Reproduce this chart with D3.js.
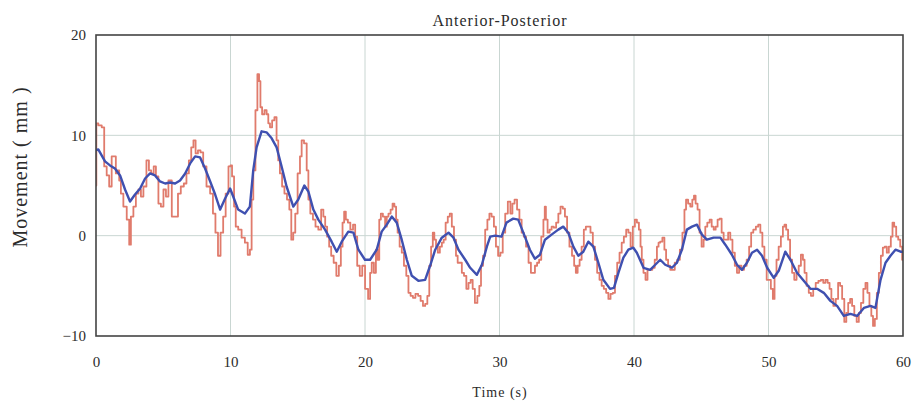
<!DOCTYPE html>
<html><head><meta charset="utf-8">
<script src="https://cdnjs.cloudflare.com/ajax/libs/d3/7.8.5/d3.min.js"></script>
<style>body{margin:0;background:#fff}svg{display:block}text{font-family:"Liberation Serif","Times New Roman",serif;fill:#2b2b2b}</style>
</head><body><svg id="c" width="916" height="402"></svg>
<script>
const title = "Anterior-Posterior";
const xLabel = "Time (s)";
const yLabel = "Movement ( mm )";
const xTicks = [0, 10, 20, 30, 40, 50, 60];
const yTicks = [-10, 0, 10, 20];

const rawT = [0,0.05,0.3,0.55,0.67,0.92,1.04,1.29,1.41,1.54,1.66,1.79,1.91,2.16,2.41,2.53,2.66,2.9,3.03,3.28,3.4,3.65,3.85,4.02,4.19,4.39,4.52,4.76,4.89,5.14,5.26,5.51,5.76,6.01,6.18,6.43,6.63,6.82,6.99,7.17,7.32,7.49,7.67,7.87,8.07,8.36,8.61,8.78,8.98,9.16,9.36,9.55,9.73,9.97,
10.03,10.2,10.33,10.45,10.7,10.95,11.19,11.37,11.52,11.62,11.77,11.94,12.06,12.19,12.26,12.44,12.61,12.76,12.86,13.01,13.18,13.35,13.5,13.6,13.75,13.92,14.1,14.3,14.45,14.59,14.74,14.89,15.09,15.24,15.34,15.59,15.74,15.84,16.03,16.23,16.41,16.65,16.83,16.98,17.1,17.27,17.4,17.57,17.77,17.97,18.14,18.27,18.39,18.51,18.64,18.81,19.01,19.21,19.33,19.51,19.71,19.88,
20.13,20.33,20.43,20.57,20.75,20.87,21.0,21.12,21.24,21.42,21.57,21.67,21.82,21.99,22.11,22.26,22.36,22.49,22.66,22.81,22.98,23.16,23.3,23.48,23.65,23.85,24.05,24.22,24.4,24.55,24.72,24.84,24.99,25.09,25.22,25.34,25.49,25.64,25.79,25.91,26.08,26.23,26.38,26.53,26.7,26.83,26.95,27.13,27.27,27.45,27.62,27.77,27.94,28.07,28.27,28.44,28.56,28.69,28.86,29.01,29.19,29.31,29.51,29.66,29.81,
29.98,30.15,30.33,30.52,30.72,30.9,31.02,31.22,31.39,31.57,31.72,31.89,32.06,32.26,32.41,32.56,32.71,32.88,33.01,33.2,33.33,33.4,33.5,33.65,33.8,33.95,34.12,34.3,34.45,34.62,34.79,34.94,35.11,35.29,35.49,35.61,35.74,35.88,36.03,36.18,36.36,36.48,36.68,36.85,37.03,37.17,37.35,37.52,37.67,37.84,38.02,38.17,38.34,38.51,38.66,38.84,39.01,39.16,39.33,39.51,39.66,39.83,
39.99,40.14,40.29,40.44,40.53,40.63,40.78,40.93,41.08,41.28,41.45,41.63,41.78,41.87,42.02,42.2,42.32,42.45,42.62,42.77,42.94,43.12,43.31,43.51,43.69,43.81,43.93,44.11,44.26,44.41,44.51,44.65,44.8,44.95,45.1,45.25,45.35,45.55,45.7,45.85,46.0,46.14,46.29,46.44,46.59,46.74,46.91,47.09,47.23,47.41,47.58,47.73,47.9,48.08,48.28,48.47,48.65,48.77,48.97,49.15,49.32,49.47,49.62,49.77,49.96,
50.09,50.26,50.39,50.51,50.68,50.83,51.01,51.13,51.25,51.38,51.53,51.68,51.83,52.0,52.17,52.32,52.5,52.62,52.74,52.92,53.07,53.24,53.41,53.61,53.81,53.98,54.16,54.31,54.48,54.6,54.75,54.9,55.1,55.25,55.4,55.55,55.72,55.85,56.0,56.14,56.29,56.47,56.64,56.79,56.96,57.14,57.28,57.43,57.58,57.71,57.83,57.98,58.13,58.28,58.43,58.57,58.72,58.87,59.02,59.17,59.27,59.42,59.57,59.72,59.87,60.0];
const rawV = [5.0,11.2,11.0,10.8,6.9,6.0,4.9,7.9,7.9,6.2,6.5,5.5,4.2,2.9,1.6,-0.9,1.9,2.9,4.2,4.6,3.9,4.9,7.5,6.5,6.2,6.9,5.9,3.2,2.9,4.6,3.9,5.5,1.9,1.9,4.2,4.9,5.2,6.2,7.5,8.8,9.5,8.2,8.5,8.3,6.9,4.9,4.2,2.2,0.3,-2.0,0.3,1.9,4.2,6.9,
7.0,5.9,2.9,0.9,0.6,-0.2,-0.7,-1.9,-1.4,3.6,6.5,12.5,16.1,15.4,12.8,12.1,12.5,12.1,11.2,10.8,11.5,11.8,9.5,7.5,6.2,4.9,4.2,3.6,2.6,-0.4,0.3,2.2,6.2,7.9,9.5,9.2,6.5,3.6,2.2,1.6,0.9,0.6,2.6,1.9,0.9,-0.1,-1.1,-2.0,-2.7,-4.0,-3.0,-1.1,1.3,2.4,1.6,1.3,0.6,1.1,-0.1,-3.0,-4.0,-3.0,
-5.3,-6.3,-3.7,-2.7,-3.7,-1.4,-2.4,1.6,2.2,1.9,0.9,1.9,2.2,2.6,3.2,2.9,1.6,0.3,-1.1,-1.7,-3.0,-4.0,-5.7,-6.0,-6.2,-5.8,-6.0,-6.5,-7.0,-6.8,-6.0,-3.0,-1.1,0.3,-0.4,-1.1,-1.7,-1.1,-0.7,-0.4,1.3,1.9,2.2,0.9,-0.4,-2.0,-2.7,-2.7,-3.7,-4.0,-5.3,-4.7,-4.4,-5.3,-6.7,-6.0,-5.0,-3.0,-2.0,0.6,1.6,2.2,1.9,0.9,-1.1,
-2.0,-1.7,0.3,2.2,3.4,2.2,3.2,3.6,2.6,1.6,0.3,-0.1,-1.1,-2.7,-3.7,-3.7,-3.0,-2.7,-2.4,-0.1,1.6,2.9,1.6,0.3,0.6,0.9,0.8,1.3,2.2,2.9,2.7,1.9,0.3,-1.1,-2.0,-3.0,-3.7,-3.0,-2.4,-1.1,0.6,0.9,0.9,0.3,-1.1,-2.4,-3.7,-4.4,-5.0,-5.3,-5.7,-6.3,-5.8,-5.7,-4.0,-2.7,-1.7,-0.7,-0.1,0.6,0.3,-1.1,
0.9,1.6,1.3,0.6,-1.1,-2.4,-3.7,-4.4,-3.4,-3.4,-3.2,-2.4,-1.1,-0.7,-0.6,-0.2,-1.4,-2.4,-3.0,-3.4,-3.4,-2.7,-2.4,-1.4,0.3,2.6,3.6,3.2,2.9,3.6,4.0,3.2,2.6,0.3,-1.1,-0.4,0.9,1.3,1.6,0.9,0.6,0.9,1.6,1.7,0.3,-0.4,-0.4,0.3,-0.4,-1.7,-3.0,-3.7,-3.0,-3.4,-3.0,-2.4,-1.1,0.3,0.6,0.9,1.1,0.3,-1.1,-2.4,-4.4,
-4.4,-5.3,-6.3,-4.0,-2.4,-1.1,-0.1,0.9,1.1,0.6,-0.4,-2.4,-3.7,-4.4,-3.7,-3.0,-1.9,-2.4,-3.7,-5.0,-5.7,-6.0,-5.3,-4.7,-4.5,-4.4,-4.7,-4.4,-4.7,-5.3,-6.3,-7.0,-6.3,-4.7,-5.0,-6.3,-8.6,-7.7,-6.7,-6.3,-7.0,-8.0,-8.6,-7.7,-6.7,-5.3,-4.7,-5.7,-7.0,-8.0,-9.0,-8.3,-5.7,-3.7,-2.0,-1.2,-1.1,-1.7,-1.1,-0.1,1.3,0.9,-0.1,-0.4,-1.1,-2.4];

const smoothT = [0,0.17,0.42,0.67,1.04,1.41,1.79,2.16,2.53,2.9,3.28,3.65,4.02,4.39,4.76,5.14,5.51,5.88,6.25,6.63,7.0,7.37,7.74,8.11,8.49,8.86,9.23,9.6,9.97,
10.2,10.57,11.07,11.44,11.69,11.94,12.31,12.68,13.06,13.43,13.8,14.17,14.67,15.04,15.49,15.79,16.16,16.53,17.03,17.52,17.9,18.27,18.76,19.14,19.51,20.0,
20.38,20.87,21.24,21.62,21.99,22.36,22.73,23.11,23.48,23.97,24.47,24.84,25.22,25.71,26.21,26.58,26.95,27.45,27.82,28.32,28.69,29.06,29.31,29.68,
30.15,30.52,31.02,31.39,31.77,32.26,32.63,33.01,33.38,33.87,34.37,34.74,35.11,35.49,35.86,36.23,36.6,36.98,37.35,37.72,38.22,38.51,38.84,39.21,39.58,39.95,
40.21,40.71,41.2,41.58,41.95,42.32,42.82,43.19,43.56,43.93,44.31,44.68,45.05,45.42,45.92,46.42,46.79,47.28,47.66,48.03,48.4,48.77,49.15,49.52,49.9,
50.39,50.76,51.25,51.63,52.12,52.62,53.12,53.61,54.11,54.6,55.1,55.6,56.09,56.59,57.09,57.58,57.95,58.33,58.7,59.07,59.44,59.82,60];
const smoothV = [8.5,8.6,8.0,7.4,7.0,6.7,6.0,4.6,3.4,4.1,4.7,5.7,6.2,6.0,5.4,5.2,5.3,5.2,5.5,6.2,7.2,7.9,7.8,6.7,5.4,4.1,2.6,3.7,4.7,
3.9,2.6,2.2,2.9,6.5,8.8,10.4,10.3,9.7,8.8,6.9,4.9,2.9,3.6,5.0,4.4,2.6,1.6,0.6,-0.6,-1.6,-0.6,0.4,0.3,-1.4,-2.4,
-2.4,-1.4,0.4,1.1,1.9,1.3,-0.4,-2.4,-4.0,-4.5,-4.4,-3.0,-1.4,-0.2,0.3,-0.2,-1.4,-2.4,-3.2,-3.9,-2.9,-1.1,-0.1,0.0,
-0.1,1.3,1.7,1.6,0.3,-1.4,-2.3,-1.9,-0.4,0.1,0.6,0.9,0.3,-1.1,-2.0,-1.6,-0.6,-1.1,-2.7,-4.4,-5.3,-5.2,-3.7,-2.2,-1.4,-1.2,
-1.7,-3.2,-3.4,-2.9,-2.4,-2.9,-3.2,-2.7,-1.4,0.6,0.9,1.1,0.1,-0.4,-0.2,-0.2,-0.9,-1.9,-2.9,-3.4,-2.7,-1.7,-1.4,-2.0,-3.2,
-4.2,-3.5,-1.6,-2.4,-3.7,-4.5,-5.3,-5.3,-5.7,-6.5,-7.0,-8.0,-7.8,-8.0,-7.2,-7.0,-7.2,-4.4,-2.7,-2.0,-1.4,-1.6,-1.6];

const rawData = rawT.map((t, i) => ({t, v: rawV[i]}));
const smoothData = smoothT.map((t, i) => ({t, v: smoothV[i]}));

const svg = d3.select("#c");
const m = {l: 96, r: 903, t: 35, b: 336};
const x = d3.scaleLinear().domain([0, 60]).range([m.l, m.r]);
const y = d3.scaleLinear().domain([-10, 20]).range([m.b, m.t]);

// grid
svg.append("g").selectAll("line").data(xTicks.slice(1, -1)).join("line")
  .attr("x1", d => x(d)).attr("x2", d => x(d)).attr("y1", m.t).attr("y2", m.b)
  .attr("stroke", "#c9d6d2").attr("stroke-width", 1);
svg.append("g").selectAll("line").data(yTicks.slice(1, -1)).join("line")
  .attr("y1", d => y(d)).attr("y2", d => y(d)).attr("x1", m.l).attr("x2", m.r)
  .attr("stroke", "#c9d6d2").attr("stroke-width", 1);

svg.append("clipPath").attr("id", "pc").append("rect")
  .attr("x", m.l).attr("y", m.t).attr("width", m.r - m.l).attr("height", m.b - m.t);

svg.append("path").datum(rawData).attr("clip-path", "url(#pc)")
  .attr("d", d3.line().x(d => x(d.t)).y(d => y(d.v)).curve(d3.curveStep)).attr("fill", "none")
  .attr("stroke", "#e07b6c").attr("stroke-width", 1.8).attr("stroke-linejoin", "round");
svg.append("path").datum(smoothData).attr("clip-path", "url(#pc)")
  .attr("d", d3.line().x(d => x(d.t)).y(d => y(d.v))).attr("fill", "none")
  .attr("stroke", "#3f50b0").attr("stroke-width", 2.4).attr("stroke-linejoin", "round");

// frame
svg.append("rect").attr("x", m.l).attr("y", m.t).attr("width", m.r - m.l).attr("height", m.b - m.t)
  .attr("fill", "none").attr("stroke", "#444").attr("stroke-width", 1.6);

const xAxis = d3.axisBottom(x).tickValues(xTicks).tickSize(0).tickPadding(0);
const gx = svg.append("g").attr("transform", `translate(0,${m.b + 20})`).call(xAxis);
gx.select(".domain").remove();
gx.selectAll("text").attr("font-size", 15).attr("fill", "#2b2b2b").attr("dy", "0.71em")
  .attr("font-family", "Liberation Serif, serif");

const yAxis = d3.axisLeft(y).tickValues(yTicks).tickSize(0).tickPadding(0)
  .tickFormat(d => d < 0 ? "\u2212" + Math.abs(d) : d);
const gy = svg.append("g").attr("transform", `translate(${m.l - 10},0)`).call(yAxis);
gy.select(".domain").remove();
gy.selectAll("text").attr("font-size", 15).attr("fill", "#2b2b2b")
  .attr("font-family", "Liberation Serif, serif");

svg.append("text").attr("x", 500).attr("y", 26).attr("text-anchor", "middle")
  .attr("font-size", 16).attr("letter-spacing", 1).text(title);
svg.append("text").attr("x", 500).attr("y", 397).attr("text-anchor", "middle")
  .attr("font-size", 14).attr("letter-spacing", 1).text(xLabel);
svg.append("text").attr("transform", "translate(27,167) rotate(-90)").attr("text-anchor", "middle")
  .attr("font-size", 20).attr("letter-spacing", 1).text(yLabel);
</script></body></html>
